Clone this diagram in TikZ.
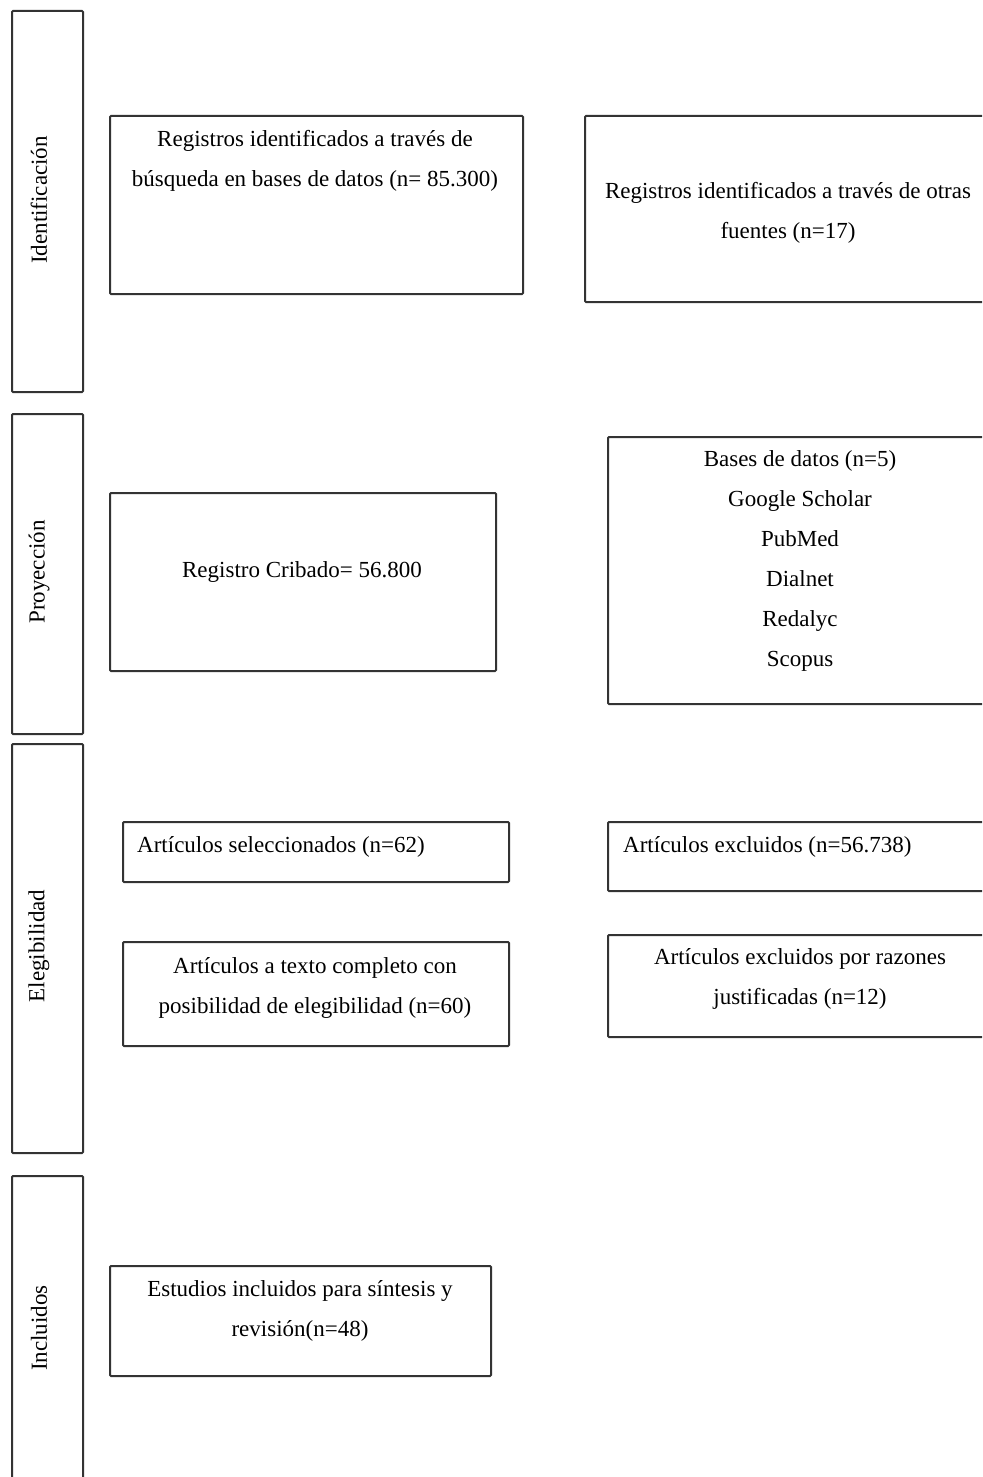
\documentclass[tikz,border=0pt]{standalone}
\usepackage{fontspec}
\setmainfont{Liberation Serif}
\tikzset{
  frame/.style={draw=black!80, line width=2pt, rounded corners=1pt, inner sep=0pt, anchor=north west},
  caption/.style={inner sep=0pt, align=center, font=\fontsize{23}{40}\selectfont, text=black},
  phase/.style={caption, rotate=90}
}
\begin{document}
\begin{tikzpicture}[x=1pt, y=-1pt]
\clip (0,0) rectangle (982,1477);
% phase bars on the left
\node[frame, minimum width=71pt, minimum height=381pt] (idbar) at (11,10) {};
\node[frame, minimum width=71pt, minimum height=320pt] (prbar) at (11,413) {};
\node[frame, minimum width=71pt, minimum height=409pt] (elbar) at (11,743) {};
\node[frame, minimum width=71pt, minimum height=330pt] (inbar) at (11,1175) {};
\node[phase] (idlab) at (39,200) {Identificación};
\node[phase] (prlab) at (39,572) {Proyección};
\node[phase] (ellab) at (39,946) {Elegibilidad};
\node[phase] (inlab) at (39,1328) {Incluidos};
% identificacion
\node[frame, minimum width=413pt, minimum height=178pt] (bdbox) at (109,115) {};
\node[caption] (bdtext) at (315,161) {Registros identificados a través de\\búsqueda en bases de datos (n= 85.300)};
\node[frame, minimum width=420pt, minimum height=186pt] (otbox) at (584,115) {};
\node[caption] (ottext) at (788,213) {Registros identificados a través de otras\\fuentes (n=17)};
% proyeccion
\node[frame, minimum width=386pt, minimum height=178pt] (crbox) at (109,492) {};
\node[caption] (crtext) at (302,572) {Registro Cribado= 56.800};
\node[frame, minimum width=400pt, minimum height=267pt] (basbox) at (607,436) {};
\node[caption] (bastext) at (800,561) {Bases de datos (n=5)\\Google Scholar\\PubMed\\Dialnet\\Redalyc\\Scopus};
% elegibilidad
\node[frame, minimum width=386pt, minimum height=60pt] (selbox) at (122,821) {};
\node[caption, anchor=west] (seltext) at (137,847) {Artículos seleccionados (n=62)};
\node[frame, minimum width=400pt, minimum height=69pt] (exbox) at (607,821) {};
\node[caption, anchor=west] (extext) at (623,847) {Artículos excluidos (n=56.738)};
\node[frame, minimum width=386pt, minimum height=104pt] (tcbox) at (122,941) {};
\node[caption] (tctext) at (315,988) {Artículos a texto completo con\\posibilidad de elegibilidad (n=60)};
\node[frame, minimum width=400pt, minimum height=102pt] (rzbox) at (607,934) {};
\node[caption] (rztext) at (800,979) {Artículos excluidos por razones\\justificadas (n=12)};
% incluidos
\node[frame, minimum width=381pt, minimum height=110pt] (incbox) at (109,1265) {};
\node[caption] (inctext) at (300,1311) {Estudios incluidos para síntesis y\\revisión(n=48)};
\end{tikzpicture}
\end{document}
